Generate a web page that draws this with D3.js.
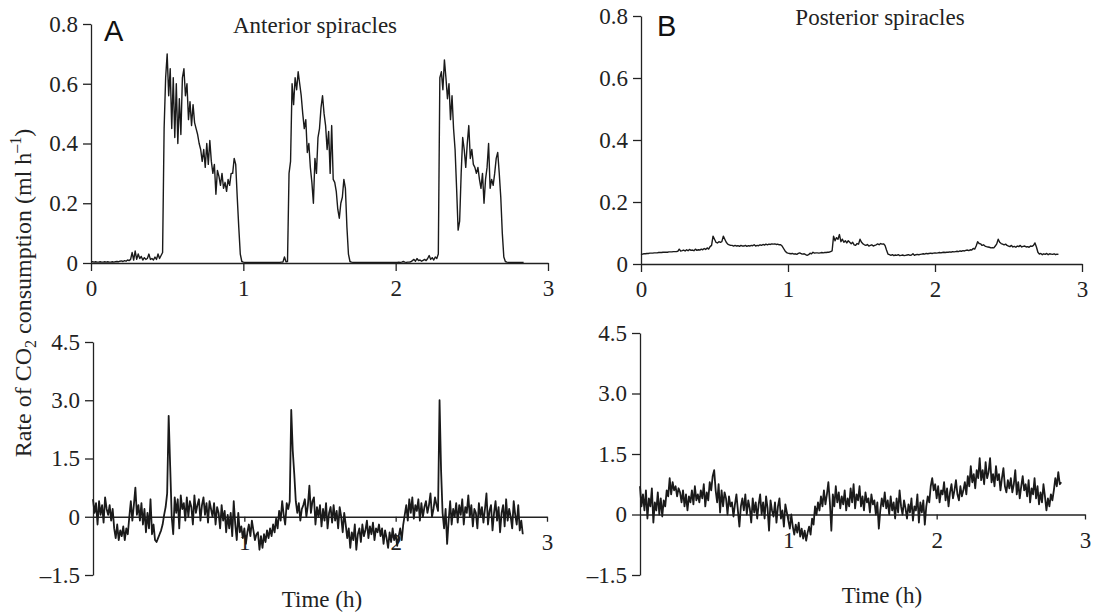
<!DOCTYPE html>
<html>
<head>
<meta charset="utf-8">
<script src="https://cdn.jsdelivr.net/npm/d3@7"></script>
<style>
  body { margin: 0; background: #fff; }
  svg { display: block; }
  .tick text { font-family: "Liberation Serif", "Times New Roman", serif; font-size: 23px; fill: #222; }
  .axis path, .axis line { stroke: #222; stroke-width: 1.3px; }
</style>
</head>
<body>
<div id="chart"></div>
<script>
// sampling interval of the traces (h)
var timeStep = 0.01;

// A, top: anterior spiracles, CO2 (ml h-1)
var anteriorCO2 = [
  0.004,0.004,0.003,0.004,0.003,0.003,0.004,0.003,0.003,0.004,
  0.003,0.004,0.003,0.003,0.004,0.003,0.004,0.005,0.004,0.006,
  0.007,0.005,0.008,0.006,0.010,0.008,0.012,0.035,0.010,0.040,
  0.012,0.030,0.015,0.022,0.010,0.018,0.012,0.015,0.030,0.012,
  0.015,0.010,0.020,0.012,0.030,0.015,0.025,0.035,0.450,0.620,
  0.700,0.560,0.650,0.450,0.620,0.420,0.600,0.400,0.550,0.430,
  0.620,0.650,0.560,0.600,0.480,0.540,0.460,0.530,0.470,0.450,
  0.430,0.400,0.380,0.340,0.380,0.320,0.400,0.330,0.410,0.340,
  0.300,0.330,0.230,0.310,0.290,0.260,0.300,0.250,0.270,0.240,
  0.280,0.260,0.300,0.300,0.350,0.330,0.220,0.120,0.030,0.005,
  0.003,0.002,0.002,0.002,0.002,0.002,0.002,0.002,0.002,0.002,
  0.002,0.002,0.002,0.002,0.002,0.002,0.002,0.002,0.002,0.002,
  0.002,0.002,0.002,0.002,0.002,0.003,0.003,0.020,0.004,0.005,
  0.300,0.340,0.600,0.530,0.620,0.580,0.640,0.600,0.560,0.500,
  0.450,0.480,0.370,0.400,0.320,0.270,0.200,0.350,0.300,0.420,
  0.450,0.520,0.560,0.500,0.460,0.380,0.440,0.300,0.460,0.280,
  0.270,0.240,0.180,0.150,0.200,0.220,0.280,0.250,0.120,0.030,
  0.005,0.003,0.002,0.002,0.002,0.002,0.002,0.002,0.002,0.002,
  0.002,0.002,0.002,0.002,0.002,0.002,0.002,0.002,0.002,0.002,
  0.002,0.002,0.002,0.002,0.002,0.002,0.002,0.002,0.002,0.002,
  0.002,0.002,0.003,0.002,0.003,0.005,0.003,0.002,0.003,0.003,
  0.004,0.008,0.012,0.006,0.015,0.008,0.010,0.006,0.009,0.012,
  0.008,0.015,0.025,0.012,0.018,0.010,0.020,0.015,0.030,0.620,
  0.640,0.580,0.680,0.620,0.550,0.600,0.480,0.560,0.450,0.380,
  0.250,0.110,0.140,0.300,0.420,0.380,0.320,0.400,0.460,0.350,
  0.380,0.330,0.320,0.300,0.320,0.280,0.250,0.300,0.200,0.280,
  0.320,0.400,0.250,0.280,0.260,0.300,0.350,0.370,0.300,0.220,
  0.100,0.020,0.005,0.003,0.002,0.002,0.002,0.002,0.002,0.002,
  0.002,0.002,0.002,0.002,0.002
];

// B, top: posterior spiracles, CO2 (ml h-1)
var posteriorCO2 = [
  0.030,0.032,0.033,0.033,0.034,0.034,0.035,0.035,0.035,0.036,
  0.036,0.036,0.037,0.037,0.037,0.038,0.038,0.038,0.038,0.039,
  0.039,0.039,0.040,0.040,0.040,0.041,0.048,0.042,0.043,0.045,
  0.042,0.046,0.043,0.047,0.044,0.045,0.043,0.048,0.044,0.046,
  0.045,0.048,0.046,0.050,0.047,0.052,0.048,0.056,0.060,0.090,
  0.080,0.070,0.068,0.072,0.070,0.072,0.090,0.080,0.070,0.064,
  0.062,0.060,0.060,0.058,0.060,0.058,0.059,0.057,0.060,0.058,
  0.058,0.060,0.057,0.059,0.058,0.060,0.059,0.062,0.058,0.060,
  0.059,0.062,0.060,0.063,0.061,0.064,0.062,0.064,0.063,0.065,
  0.064,0.065,0.063,0.064,0.062,0.062,0.058,0.050,0.042,0.037,
  0.035,0.034,0.033,0.034,0.032,0.033,0.031,0.034,0.036,0.033,
  0.032,0.033,0.030,0.028,0.030,0.035,0.033,0.038,0.035,0.036,
  0.036,0.035,0.036,0.037,0.036,0.037,0.037,0.038,0.038,0.040,
  0.042,0.090,0.075,0.085,0.080,0.095,0.072,0.080,0.070,0.075,
  0.068,0.075,0.070,0.065,0.070,0.062,0.060,0.066,0.064,0.080,
  0.070,0.065,0.062,0.060,0.063,0.058,0.060,0.062,0.058,0.060,
  0.062,0.065,0.062,0.066,0.064,0.065,0.060,0.045,0.032,0.030,
  0.028,0.030,0.027,0.029,0.028,0.030,0.027,0.028,0.029,0.027,
  0.028,0.029,0.030,0.028,0.029,0.033,0.028,0.030,0.031,0.030,
  0.031,0.032,0.033,0.032,0.034,0.033,0.034,0.035,0.034,0.035,
  0.036,0.035,0.036,0.037,0.036,0.037,0.038,0.037,0.038,0.038,
  0.039,0.038,0.040,0.039,0.040,0.041,0.040,0.042,0.041,0.043,
  0.042,0.044,0.045,0.043,0.046,0.045,0.050,0.048,0.058,0.072,
  0.066,0.065,0.060,0.062,0.058,0.056,0.055,0.054,0.052,0.053,
  0.052,0.058,0.065,0.080,0.070,0.066,0.064,0.062,0.064,0.060,
  0.058,0.056,0.060,0.055,0.057,0.054,0.058,0.056,0.060,0.055,
  0.057,0.058,0.055,0.056,0.054,0.058,0.057,0.060,0.068,0.055,
  0.038,0.032,0.034,0.030,0.033,0.031,0.034,0.030,0.033,0.032,
  0.031,0.033,0.030,0.032,0.031
];

// A, bottom
var anteriorLower = [
  0.45,0.10,0.35,-0.20,0.40,0.05,0.30,-0.15,0.50,0.20,
  0.05,0.30,-0.10,0.20,-0.30,-0.55,-0.20,-0.60,-0.35,-0.50,
  -0.25,-0.60,-0.30,-0.45,0.00,0.40,-0.10,0.30,0.75,0.05,
  0.30,-0.10,0.35,-0.20,0.20,-0.40,0.10,-0.30,0.45,-0.45,
  -0.20,-0.60,-0.65,-0.55,-0.45,-0.35,-0.20,0.05,0.25,0.60,
  2.60,1.30,0.00,-0.45,0.50,0.10,0.45,-0.30,0.55,0.20,
  0.35,-0.10,0.50,0.00,0.40,0.25,-0.20,0.55,0.10,0.30,
  0.45,-0.10,0.30,0.50,0.05,0.35,-0.15,0.40,0.20,0.00,
  0.35,-0.20,0.25,0.10,-0.30,0.30,-0.10,0.15,-0.40,0.05,
  -0.30,0.10,-0.50,0.40,-0.20,-0.60,0.10,-0.40,-0.25,-0.55,
  -0.30,-0.70,-0.40,-0.20,-0.50,-0.10,-0.35,-0.60,-0.45,-0.40,
  -0.85,-0.50,-0.80,-0.45,-0.65,-0.35,-0.55,-0.30,-0.50,-0.20,
  -0.40,-0.05,-0.30,0.15,-0.10,0.40,0.05,-0.20,0.35,0.20,
  0.40,2.75,1.70,1.10,0.40,0.10,0.35,-0.10,0.20,0.30,
  0.45,0.00,0.30,0.80,0.10,0.40,0.50,-0.20,0.25,0.00,
  0.30,-0.25,0.20,-0.10,0.35,-0.30,0.10,0.25,-0.15,0.30,
  -0.10,0.15,-0.30,0.25,0.00,-0.40,0.10,-0.20,-0.55,-0.30,
  -0.80,-0.40,-0.60,-0.20,-0.85,-0.45,-0.30,-0.65,-0.20,-0.50,
  -0.35,-0.10,-0.55,-0.25,-0.45,-0.15,-0.60,-0.30,-0.40,-0.20,
  -0.50,-0.30,-0.70,-0.35,-0.55,-0.80,-0.40,-0.65,-0.30,-0.60,
  -0.45,-0.75,-0.50,-0.30,-0.60,-0.20,0.05,0.30,-0.10,0.45,
  0.10,0.50,-0.05,0.30,0.15,0.45,-0.10,0.35,0.00,0.25,
  0.40,0.10,0.30,0.60,0.00,0.20,0.50,0.30,0.15,3.00,
  1.20,0.10,-0.30,0.20,-0.70,-0.10,0.40,-0.20,0.20,0.00,
  0.35,-0.15,0.30,0.05,0.45,-0.20,0.25,0.10,0.55,0.00,
  0.30,-0.25,0.20,0.10,-0.30,0.35,0.00,0.25,-0.15,0.20,
  0.60,-0.20,0.15,0.30,-0.35,0.10,0.40,-0.10,0.25,-0.40,
  0.10,0.30,-0.25,0.45,-0.10,0.20,0.00,-0.30,0.40,0.05,
  -0.20,0.30,-0.35,-0.10,-0.45
];

// B, bottom
var posteriorLower = [
  0.70,0.20,0.50,0.10,0.60,-0.10,0.40,0.20,0.65,-0.20,
  0.30,0.10,0.55,0.00,0.40,-0.05,0.35,0.20,0.60,0.45,
  0.90,0.50,0.80,0.60,0.70,0.45,0.65,0.55,0.30,0.60,
  0.20,0.50,0.10,0.45,0.30,0.60,0.25,0.70,0.35,0.50,
  0.30,0.60,0.40,0.75,0.20,0.55,0.35,0.80,0.60,0.95,
  1.10,0.60,0.30,0.75,0.05,0.60,0.20,0.55,0.40,0.00,
  0.45,0.20,0.30,-0.05,0.25,0.50,0.10,-0.30,0.20,0.40,
  0.10,0.50,0.00,0.35,0.15,-0.20,0.40,0.05,0.30,-0.10,
  0.25,0.50,0.00,0.30,-0.10,0.45,0.15,-0.40,0.35,0.10,
  -0.05,0.30,-0.20,0.20,0.40,-0.10,0.10,-0.30,0.25,0.05,
  -0.15,-0.35,0.00,-0.30,-0.50,-0.25,-0.45,-0.20,-0.55,-0.35,
  -0.60,-0.40,-0.65,-0.45,-0.30,-0.50,-0.10,-0.25,0.20,0.00,
  0.30,0.10,0.45,0.20,0.60,0.25,0.50,0.80,0.30,-0.40,
  0.50,0.20,0.70,0.30,0.55,0.15,0.45,0.25,0.60,0.10,
  0.40,0.20,0.65,0.30,0.75,0.15,0.50,0.35,0.70,0.20,
  0.45,0.10,0.55,0.30,0.40,0.05,0.50,0.25,0.35,0.00,
  0.30,-0.35,0.10,0.40,0.20,0.55,0.15,0.35,0.00,0.45,
  0.10,0.30,-0.10,0.40,0.05,0.60,0.20,0.00,0.35,0.15,
  -0.10,0.25,0.05,0.40,-0.15,0.20,0.10,0.50,-0.20,0.30,
  0.05,0.35,-0.25,0.20,0.45,0.30,0.70,0.90,0.60,0.75,
  0.40,0.70,0.30,0.60,0.50,0.80,0.35,0.65,0.20,0.55,
  0.75,0.40,0.60,0.85,0.50,0.35,0.70,0.45,0.60,0.80,
  0.50,0.95,0.70,1.20,0.80,1.00,0.65,1.10,0.90,1.40,
  0.85,1.10,0.75,1.30,0.90,1.05,1.40,0.80,1.00,0.70,
  1.20,0.85,1.00,0.60,0.90,1.15,0.70,0.55,0.85,0.65,
  0.90,0.55,0.75,1.10,0.50,0.80,0.40,0.70,0.95,0.60,
  0.75,0.45,0.85,0.30,0.65,0.50,0.90,0.40,0.70,0.25,
  0.55,0.30,0.75,0.45,0.10,0.40,0.20,0.50,0.35,0.60,
  0.90,0.70,1.05,0.75,0.80
];

var topTicks = [0, 0.2, 0.4, 0.6, 0.8];
var bottomTicks = [-1.5, 0, 1.5, 3.0, 4.5];
var hourTicks = [0, 1, 2, 3];

var w = 1097, h = 614;
var serif = '"Liberation Serif", "Times New Roman", serif';
var sans = '"Liberation Sans", Arial, sans-serif';

var svg = d3.select("#chart").append("svg")
  .attr("width", w)
  .attr("height", h);

function fmtTop(d) { return d === 0 ? "0" : d3.format(".1f")(d); }
function fmtBottom(d) {
  if (d === 0) return "0";
  return (d < 0 ? "\u2013" : "") + d3.format(".1f")(Math.abs(d));
}

function drawPanel(p) {
  var x = d3.scaleLinear().domain([0, 3]).range([p.left, p.right]);
  var y = d3.scaleLinear().domain(p.yDomain).range([p.bottom, p.top]);
  var g = svg.append("g");

  // y axis
  g.append("g")
    .attr("class", "axis")
    .attr("transform", "translate(" + p.left + ",0)")
    .call(d3.axisLeft(y).tickValues(p.yTicks).tickFormat(p.fmt)
      .tickSizeInner(8).tickSizeOuter(0).tickPadding(5));

  // x axis sits on y = 0
  var xTicks = p.lower ? hourTicks.slice(1) : hourTicks;
  g.append("g")
    .attr("class", "axis")
    .attr("transform", "translate(0," + y(0) + ")")
    .call(d3.axisBottom(x).tickValues(xTicks).tickFormat(d3.format("d"))
      .tickSizeInner(p.lower ? 5 : 8).tickSizeOuter(0).tickPadding(p.lower ? 12 : 9));

  // trace
  var line = d3.line()
    .x(function(d, i) { return x(i * timeStep); })
    .y(function(d) { return y(d); });

  g.append("path")
    .attr("d", line(p.data))
    .attr("fill", "none")
    .attr("stroke", "#1a1a1a")
    .attr("stroke-width", p.lower ? 1.8 : 1.4)
    .attr("stroke-linejoin", "round");

  if (p.letter) {
    g.append("text")
      .attr("x", p.letterX)
      .attr("y", p.letterY)
      .attr("font-family", sans)
      .attr("font-size", 29)
      .attr("fill", "#111")
      .text(p.letter);
  }
  if (p.title) {
    g.append("text")
      .attr("x", p.titleX)
      .attr("y", p.titleY)
      .attr("text-anchor", "middle")
      .attr("font-family", serif)
      .attr("font-size", 23)
      .attr("fill", "#222")
      .text(p.title);
  }
  if (p.lower) {
    g.append("text")
      .attr("x", p.xLabelX)
      .attr("y", p.xLabelY)
      .attr("text-anchor", "middle")
      .attr("font-family", serif)
      .attr("font-size", 23)
      .attr("fill", "#222")
      .text("Time (h)");
  }
}

drawPanel({ data: anteriorCO2, left: 91, right: 548, top: 24, bottom: 263,
  yDomain: [0, 0.8], yTicks: topTicks, fmt: fmtTop,
  letter: "A", letterX: 104, letterY: 41, title: "Anterior spiracles", titleX: 315, titleY: 33 });

drawPanel({ data: posteriorCO2, left: 641, right: 1082, top: 16, bottom: 264,
  yDomain: [0, 0.8], yTicks: topTicks, fmt: fmtTop,
  letter: "B", letterX: 657, letterY: 36, title: "Posterior spiracles", titleX: 880, titleY: 25 });

drawPanel({ data: anteriorLower, left: 93, right: 547, top: 342, bottom: 575,
  yDomain: [-1.5, 4.5], yTicks: bottomTicks, fmt: fmtBottom, lower: true,
  xLabelX: 322, xLabelY: 607 });

drawPanel({ data: posteriorLower, left: 640, right: 1085, top: 333, bottom: 575,
  yDomain: [-1.5, 4.5], yTicks: bottomTicks, fmt: fmtBottom, lower: true,
  xLabelX: 882, xLabelY: 603 });

// shared y label
var yl = svg.append("text")
  .attr("transform", "translate(31,293) rotate(-90)")
  .attr("text-anchor", "middle")
  .attr("font-family", serif)
  .attr("font-size", 24)
  .attr("fill", "#222");
yl.append("tspan").text("Rate of CO");
yl.append("tspan").attr("font-size", 16).attr("dy", 5).text("2");
yl.append("tspan").attr("dy", -5).text(" consumption (ml h");
yl.append("tspan").attr("font-size", 16).attr("dy", -10).text("\u20131");
yl.append("tspan").attr("dy", 10).text(")");
</script>
</body>
</html>
